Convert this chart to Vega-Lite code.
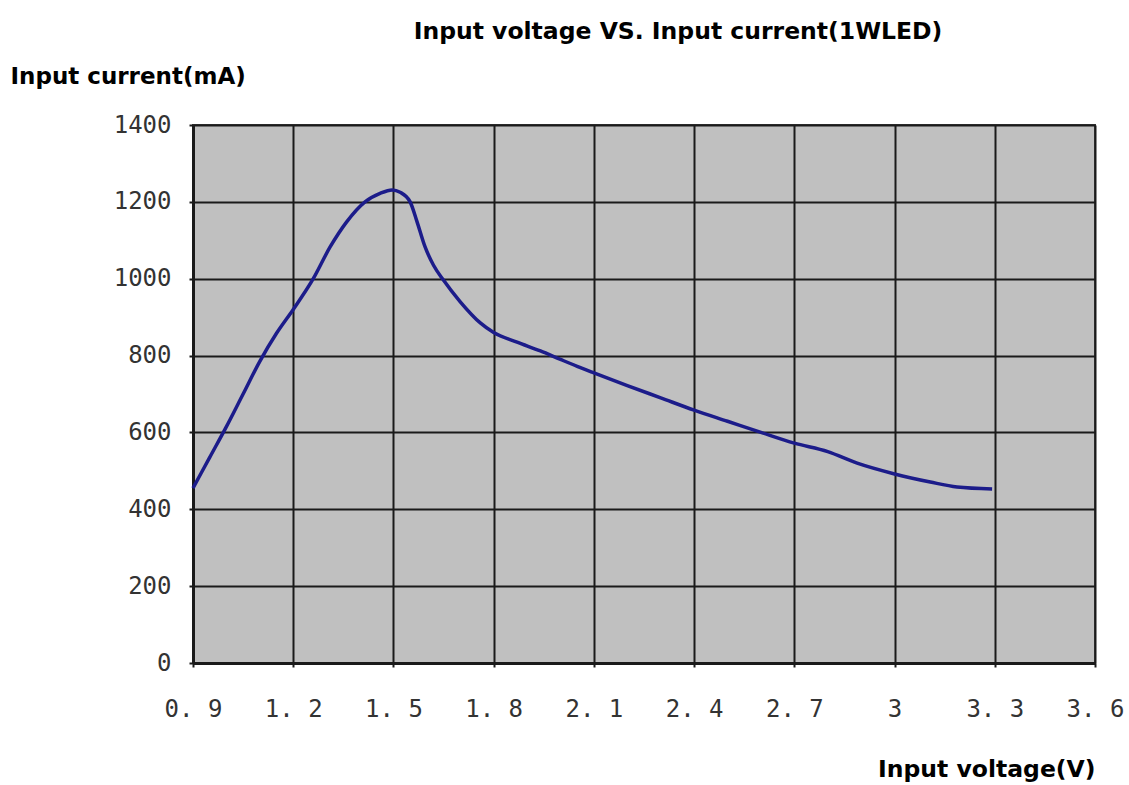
{
  "$schema": "https://vega.github.io/schema/vega-lite/v6.json",
  "autosize": "none",
  "width": 902,
  "height": 538,
  "padding": {"left": 193, "top": 125, "right": 34, "bottom": 122},
  "background": "#ffffff",
  "title": {
    "text": "Input voltage VS. Input current(1WLED)",
    "anchor": "middle",
    "frame": "group",
    "dx": 34,
    "baseline": "alphabetic",
    "offset": 3,
    "font": "DejaVu Sans",
    "fontSize": 23.5,
    "fontWeight": "bold",
    "color": "#000000"
  },
  "config": {
    "view": {"fill": "#c0c0c0", "stroke": "#3a3a3a", "strokeWidth": 2}
  },
  "data": {
    "values": [
      {"voltage": 0.9, "current": 455},
      {"voltage": 0.95, "current": 535},
      {"voltage": 1.0, "current": 615},
      {"voltage": 1.05, "current": 700},
      {"voltage": 1.1, "current": 785},
      {"voltage": 1.15, "current": 858},
      {"voltage": 1.2, "current": 920},
      {"voltage": 1.26, "current": 1000},
      {"voltage": 1.31, "current": 1082},
      {"voltage": 1.36, "current": 1148},
      {"voltage": 1.415, "current": 1200},
      {"voltage": 1.46, "current": 1222},
      {"voltage": 1.496, "current": 1231},
      {"voltage": 1.52, "current": 1225},
      {"voltage": 1.55, "current": 1200},
      {"voltage": 1.57, "current": 1150},
      {"voltage": 1.595, "current": 1082},
      {"voltage": 1.62, "current": 1035},
      {"voltage": 1.649, "current": 997},
      {"voltage": 1.7, "current": 940},
      {"voltage": 1.76, "current": 885},
      {"voltage": 1.8, "current": 860},
      {"voltage": 1.87, "current": 835},
      {"voltage": 1.94, "current": 812},
      {"voltage": 2.0, "current": 790},
      {"voltage": 2.05, "current": 772},
      {"voltage": 2.1, "current": 755},
      {"voltage": 2.2, "current": 722},
      {"voltage": 2.3, "current": 690},
      {"voltage": 2.4, "current": 658},
      {"voltage": 2.5, "current": 629},
      {"voltage": 2.6, "current": 600},
      {"voltage": 2.7, "current": 572},
      {"voltage": 2.8, "current": 550},
      {"voltage": 2.888, "current": 520},
      {"voltage": 3.0, "current": 492},
      {"voltage": 3.107, "current": 471},
      {"voltage": 3.187, "current": 458},
      {"voltage": 3.292, "current": 453}
    ]
  },
  "mark": {"type": "line", "color": "#1c1c8a", "strokeWidth": 3.5, "interpolate": "monotone"},
  "encoding": {
    "x": {
      "field": "voltage",
      "type": "quantitative",
      "scale": {"domain": [0.9, 3.6], "nice": false, "zero": false},
      "axis": {
        "values": [0.9, 1.2, 1.5, 1.8, 2.1, 2.4, 2.7, 3.0, 3.3, 3.6],
        "format": "~g",
        "labelExpr": "replace(datum.label, '.', '. ')",
        "grid": true,
        "gridColor": "#1a1a1a",
        "gridWidth": 2,
        "gridOpacity": 1,
        "domain": true,
        "domainColor": "#1a1a1a",
        "domainWidth": 3,
        "ticks": true,
        "tickSize": 4,
        "tickColor": "#1a1a1a",
        "tickWidth": 2,
        "labelFont": "DejaVu Sans Mono",
        "labelFontSize": 24,
        "labelColor": "#333333",
        "labelPadding": 30,
        "labelBaseline": "top",
        "labelFlush": false,
        "title": "Input voltage(V)",
        "titleFont": "DejaVu Sans",
        "titleFontSize": 23.5,
        "titleFontWeight": "bold",
        "titleColor": "#000000",
        "titleAnchor": "end",
        "titleAlign": "right",
        "titleBaseline": "alphabetic",
        "titleX": 902,
        "titleY": 113
      }
    },
    "y": {
      "field": "current",
      "type": "quantitative",
      "scale": {"domain": [0, 1400], "nice": false},
      "axis": {
        "values": [0, 200, 400, 600, 800, 1000, 1200, 1400],
        "format": "d",
        "grid": true,
        "gridColor": "#1a1a1a",
        "gridWidth": 2,
        "gridOpacity": 1,
        "domain": true,
        "domainColor": "#1a1a1a",
        "domainWidth": 3,
        "ticks": true,
        "tickSize": 4,
        "tickColor": "#1a1a1a",
        "tickWidth": 2,
        "labelFont": "DejaVu Sans Mono",
        "labelFontSize": 24,
        "labelColor": "#333333",
        "labelPadding": 18,
        "labelFlush": false,
        "title": "Input current(mA)",
        "titleFont": "DejaVu Sans",
        "titleFontSize": 23,
        "titleFontWeight": "bold",
        "titleColor": "#000000",
        "titleAngle": 0,
        "titleAlign": "left",
        "titleBaseline": "alphabetic",
        "titleX": -183,
        "titleY": -42
      }
    }
  }
}
